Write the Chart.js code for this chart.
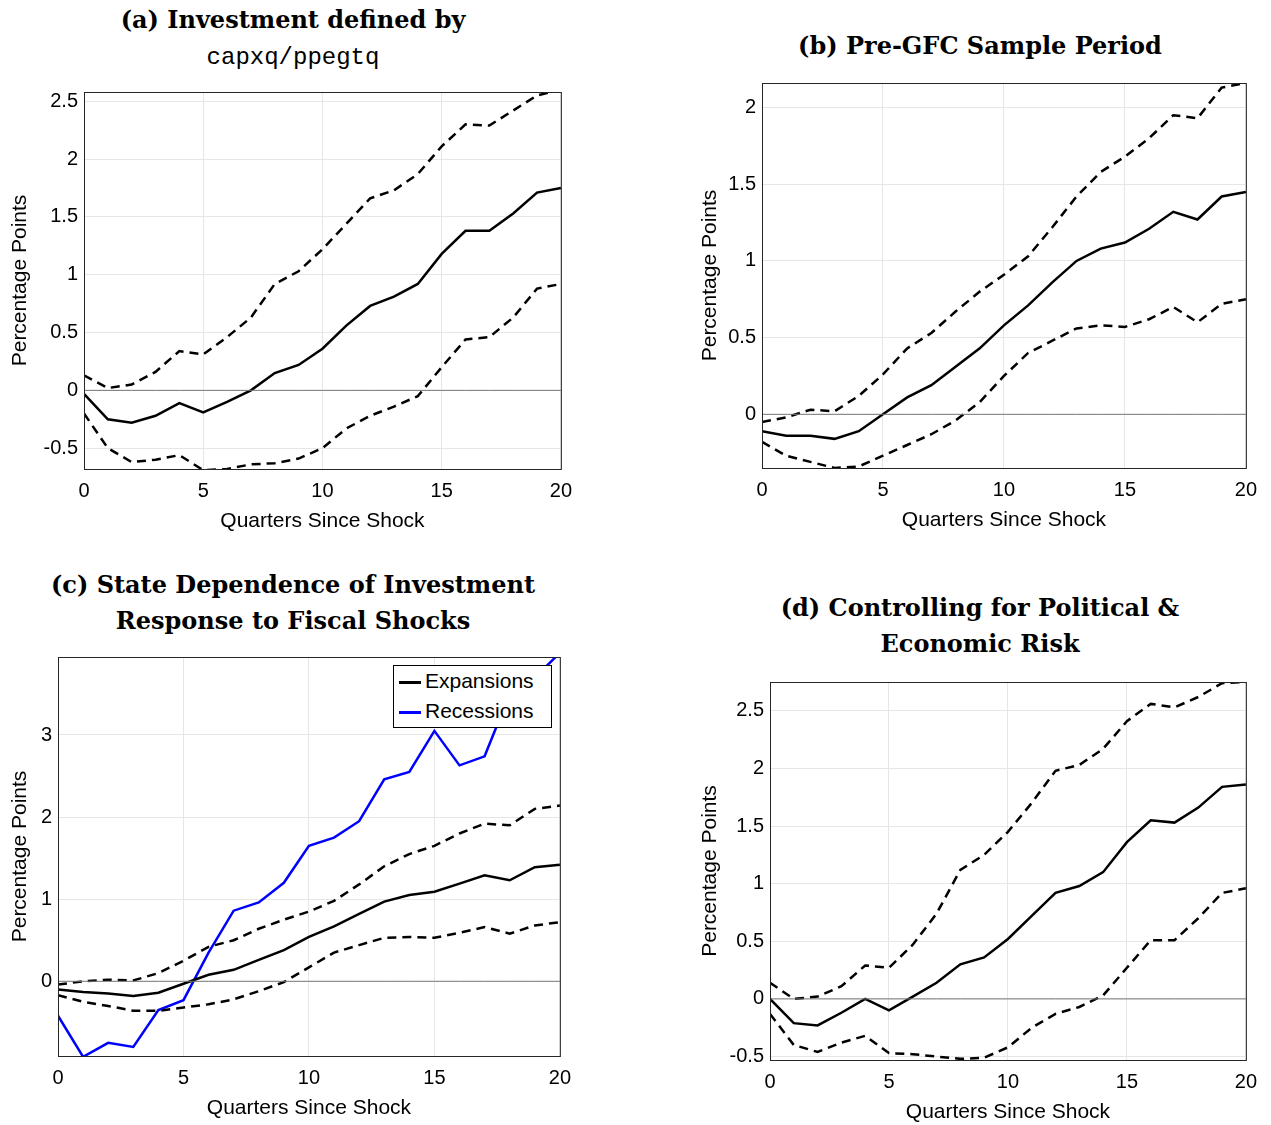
<!DOCTYPE html>
<html><head><meta charset="utf-8">
<script src="https://cdn.jsdelivr.net/npm/chart.js@4"></script>
<style>
body{margin:0;background:#fff;width:1271px;height:1125px;position:relative;overflow:hidden}
.c{position:absolute}
.t{position:absolute;font-family:"DejaVu Serif",serif;font-weight:bold;font-size:24px;text-align:center;line-height:36px;color:#000}
.mono{font-family:"Liberation Mono","DejaVu Sans Mono",monospace;font-weight:normal;font-size:24px}
#leg{position:absolute;left:393px;top:665px;width:157px;height:61px;border:1px solid #000;background:#fff;font-family:"Liberation Sans",Arial,sans-serif;font-size:21px}
#leg div{position:relative;height:30px;line-height:30px;padding-left:31px}
#leg span{position:absolute;left:5px;top:15px;width:22px;height:0;border-top:3px solid}
</style></head><body>
<div class="t" style="left:20px;top:2px;width:546px">(a) Investment defined by<br><span class="mono">capxq/ppegtq</span></div>
<div class="t" style="left:700px;top:28px;width:560px">(b) Pre-GFC Sample Period</div>
<div class="t" style="left:0px;top:567px;width:586px">(c) State Dependence of Investment<br>Response to Fiscal Shocks</div>
<div class="t" style="left:700px;top:590px;width:560px">(d) Controlling for Political &amp;<br>Economic Risk</div>
<div class="c" style="left:0;top:74px;width:582px;height:460px"><canvas id="ca"></canvas></div>
<div class="c" style="left:690px;top:65px;width:577px;height:468px"><canvas id="cb"></canvas></div>
<div class="c" style="left:0;top:639px;width:581px;height:482px"><canvas id="cc"></canvas></div>
<div class="c" style="left:690px;top:664px;width:577px;height:461px"><canvas id="cd"></canvas></div>
<div id="leg"><div><span style="border-color:#000"></span>Expansions</div><div><span style="border-color:#0000ff"></span>Recessions</div></div>
<script>
const quarters=[0,1,2,3,4,5,6,7,8,9,10,11,12,13,14,15,16,17,18,19,20];
const aMid=[-0.03,-0.25,-0.28,-0.22,-0.11,-0.19,-0.1,0,0.15,0.22,0.36,0.56,0.73,0.81,0.92,1.18,1.38,1.38,1.53,1.71,1.75];
const aUp=[0.13,0.02,0.05,0.16,0.34,0.31,0.46,0.63,0.92,1.03,1.22,1.44,1.66,1.73,1.87,2.11,2.3,2.29,2.42,2.55,2.6];
const aLo=[-0.2,-0.5,-0.62,-0.6,-0.56,-0.69,-0.68,-0.64,-0.63,-0.59,-0.5,-0.33,-0.22,-0.14,-0.05,0.2,0.44,0.46,0.63,0.88,0.92];
const bMid=[-0.11,-0.14,-0.14,-0.16,-0.11,0,0.11,0.19,0.31,0.43,0.58,0.71,0.86,1.0,1.08,1.12,1.21,1.32,1.27,1.42,1.45];
const bUp=[-0.05,-0.02,0.03,0.02,0.12,0.26,0.43,0.53,0.67,0.8,0.91,1.03,1.22,1.42,1.58,1.68,1.8,1.95,1.93,2.13,2.16];
const bLo=[-0.18,-0.27,-0.31,-0.35,-0.34,-0.27,-0.2,-0.13,-0.04,0.08,0.25,0.4,0.48,0.56,0.58,0.57,0.62,0.7,0.6,0.72,0.75];
const cExp=[-0.1,-0.13,-0.15,-0.18,-0.14,-0.03,0.08,0.14,0.26,0.38,0.54,0.67,0.82,0.97,1.05,1.09,1.19,1.29,1.23,1.39,1.42];
const cUp=[-0.04,0,0.02,0.01,0.1,0.25,0.42,0.5,0.64,0.75,0.85,0.98,1.18,1.4,1.55,1.65,1.8,1.92,1.9,2.1,2.14];
const cLo=[-0.17,-0.25,-0.3,-0.36,-0.36,-0.32,-0.28,-0.22,-0.12,-0.01,0.17,0.35,0.44,0.53,0.54,0.53,0.59,0.66,0.58,0.68,0.72];
const cRec=[-0.42,-0.92,-0.75,-0.8,-0.35,-0.23,0.35,0.86,0.96,1.2,1.65,1.75,1.95,2.46,2.55,3.05,2.63,2.74,3.5,3.7,4.0];
const dMid=[0,-0.21,-0.23,-0.12,0,-0.1,0.02,0.14,0.3,0.36,0.52,0.72,0.92,0.98,1.1,1.36,1.55,1.53,1.66,1.84,1.86];
const dUp=[0.14,0,0.02,0.11,0.29,0.27,0.47,0.74,1.12,1.25,1.45,1.7,1.98,2.03,2.17,2.41,2.56,2.53,2.62,2.74,2.75];
const dLo=[-0.13,-0.4,-0.46,-0.38,-0.32,-0.47,-0.48,-0.5,-0.52,-0.51,-0.42,-0.25,-0.13,-0.07,0.03,0.27,0.51,0.51,0.7,0.92,0.96];
const aTicks=[-0.5,0,0.5,1,1.5,2,2.5], bTicks=[0,0.5,1,1.5,2], cTicks=[0,1,2,3], dTicks=[-0.5,0,0.5,1,1.5,2,2.5];
const xTicks=[0,5,10,15,20];

const F='"Liberation Sans",Arial,sans-serif';
const boxPlugin={id:'box',afterDraw(ch){const a=ch.chartArea,g=ch.ctx;g.save();g.strokeStyle='#262626';g.lineWidth=1;g.strokeRect(a.left+0.5,a.top+0.5,a.right-a.left,a.bottom-a.top);g.restore();}};
function pts(arr){return quarters.map((q,i)=>({x:q,y:arr[i]}));}
function ds(arr,color,dash,w){return {data:pts(arr),borderColor:color,borderWidth:w,borderDash:dash,pointRadius:0,fill:false,tension:0};}
function make(id,sets,ymin,ymax,yt,yw){
  sets.unshift(ds(quarters.map(()=>0),'#777',[],1));
  new Chart(document.getElementById(id),{type:'line',data:{datasets:sets},plugins:[boxPlugin],
  options:{animation:false,responsive:true,maintainAspectRatio:false,layout:{padding:{top:10,right:14}},
   plugins:{legend:{display:false},tooltip:{enabled:false}},
   scales:{
    x:{type:'linear',min:0,max:20,afterBuildTicks:s=>{s.ticks=xTicks.map(v=>({value:v}))},
      afterFit:s=>{s.height=65},
      ticks:{font:{family:F,size:20},color:'#000',maxRotation:0,padding:10},
      grid:{color:'#e6e6e6',tickLength:0},border:{display:false},
      title:{display:true,text:'Quarters Since Shock',font:{family:F,size:21},color:'#000',padding:{top:0,bottom:0}}},
    y:{min:ymin,max:ymax,afterBuildTicks:s=>{s.ticks=yt.map(v=>({value:v}))},
      afterFit:s=>{s.width=yw},
      ticks:{font:{family:F,size:20},color:'#000',padding:6,callback:v=>String(v)},
      grid:{color:'#e6e6e6',tickLength:0},border:{display:false},
      title:{display:true,text:'Percentage Points',font:{family:F,size:21},color:'#000',padding:{top:8,bottom:0}}}
   }}});
}
make('ca',[ds(aUp,'#000',[9,6],2.5),ds(aLo,'#000',[9,6],2.5),ds(aMid,'#000',[],2.5)],-0.68,2.58,aTicks,84);
make('cb',[ds(bUp,'#000',[9,6],2.5),ds(bLo,'#000',[9,6],2.5),ds(bMid,'#000',[],2.5)],-0.35,2.16,bTicks,72);
make('cc',[ds(cUp,'#000',[9,6],2.5),ds(cLo,'#000',[9,6],2.5),ds(cExp,'#000',[],2.5),ds(cRec,'#0000ff',[],2.5)],-0.91,3.95,cTicks,58);
make('cd',[ds(dUp,'#000',[9,6],2.5),ds(dLo,'#000',[9,6],2.5),ds(dMid,'#000',[],2.5)],-0.53,2.75,dTicks,80);
</script></body></html>
